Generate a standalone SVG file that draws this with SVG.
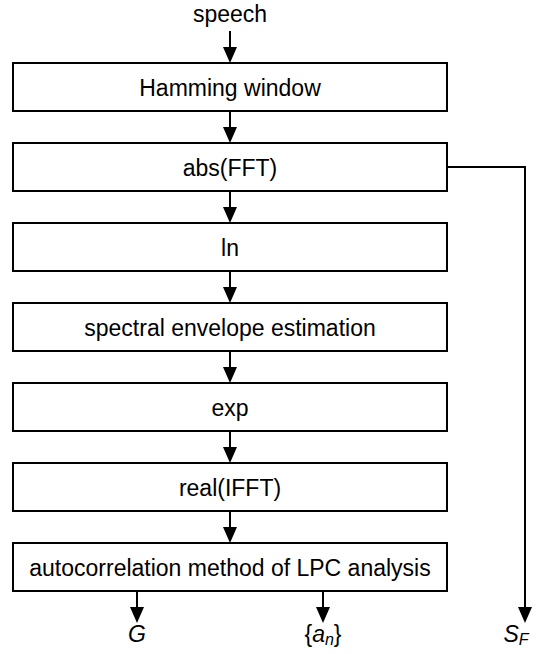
<svg xmlns="http://www.w3.org/2000/svg" width="539" height="654" viewBox="0 0 539 654">
<style>
.box{fill:#fff;stroke:#000;stroke-width:2}
.t{font-family:"Liberation Sans",Arial,sans-serif;font-size:23px;fill:#000;text-anchor:middle}
.ln{fill:none;stroke:#000;stroke-width:2}
</style>
<rect width="539" height="654" fill="#fff"/>
<text class="t" x="230" y="22">speech</text>
<g id="connectors">
<line class="ln" x1="230" y1="31" x2="230" y2="48"/>
<path d="M223,47 L237,47 L230,63 Z"/>
<line class="ln" x1="230" y1="111" x2="230" y2="128"/>
<path d="M223,127 L237,127 L230,143 Z"/>
<line class="ln" x1="230" y1="191" x2="230" y2="208"/>
<path d="M223,207 L237,207 L230,223 Z"/>
<line class="ln" x1="230" y1="271" x2="230" y2="288"/>
<path d="M223,287 L237,287 L230,303 Z"/>
<line class="ln" x1="230" y1="351" x2="230" y2="368"/>
<path d="M223,367 L237,367 L230,383 Z"/>
<line class="ln" x1="230" y1="431" x2="230" y2="448"/>
<path d="M223,447 L237,447 L230,463 Z"/>
<line class="ln" x1="230" y1="511" x2="230" y2="528"/>
<path d="M223,527 L237,527 L230,543 Z"/>
<line class="ln" x1="137" y1="591" x2="137" y2="607"/>
<path d="M130,607 L144,607 L137,623 Z"/>
<line class="ln" x1="323" y1="591" x2="323" y2="607"/>
<path d="M316,607 L330,607 L323,623 Z"/>
<polyline class="ln" points="447,167 525,167 525,607"/>
<path d="M518,607 L532,607 L525,623 Z"/>
</g>
<g id="n1"><rect class="box" x="13" y="63" width="434" height="48"/><text class="t" x="230" y="96">Hamming window</text></g>
<g id="n2"><rect class="box" x="13" y="143" width="434" height="48"/><text class="t" x="230" y="176">abs(FFT)</text></g>
<g id="n3"><rect class="box" x="13" y="223" width="434" height="48"/><text class="t" x="230" y="256">ln</text></g>
<g id="n4"><rect class="box" x="13" y="303" width="434" height="48"/><text class="t" x="230" y="336">spectral envelope estimation</text></g>
<g id="n5"><rect class="box" x="13" y="383" width="434" height="48"/><text class="t" x="230" y="416">exp</text></g>
<g id="n6"><rect class="box" x="13" y="463" width="434" height="48"/><text class="t" x="230" y="496">real(IFFT)</text></g>
<g id="n7"><rect class="box" x="13" y="543" width="434" height="48"/><text class="t" x="230" y="576">autocorrelation method of LPC analysis</text></g>
<g id="outG"><text class="t" x="137" y="642" font-style="italic">G</text></g>
<g id="outA"><text class="t" x="323" y="642">{<tspan font-style="italic">a</tspan><tspan font-style="italic" font-size="16" dy="3">n</tspan><tspan dy="-3">}</tspan></text></g>
<g id="outS"><text class="t" x="516" y="642"><tspan font-style="italic">S</tspan><tspan font-style="italic" font-size="16" dy="3">F</tspan></text></g>
</svg>
